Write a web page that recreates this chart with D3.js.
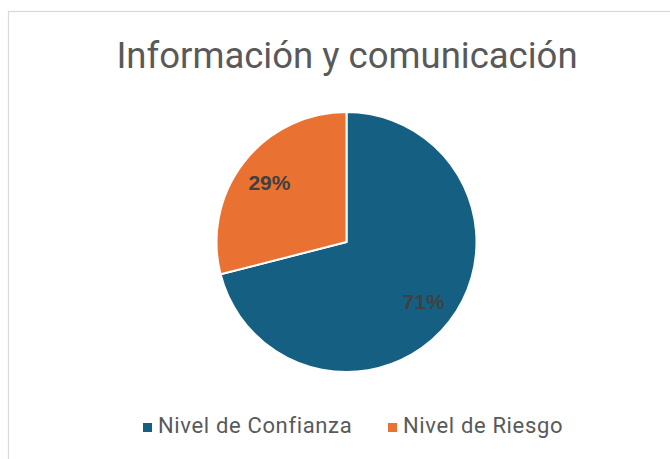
<!DOCTYPE html>
<html lang="es">
<head>
<meta charset="UTF-8">
<title>Información y comunicación</title>
<script src="https://cdn.jsdelivr.net/npm/d3@7"></script>
<style>
  * { margin: 0; padding: 0; }
  body { background: #fff; }
</style>
</head>
<body>
<svg></svg>
<script>
  const categories = ['Nivel de Confianza', 'Nivel de Riesgo'];
  const values = [71, 29];
  const colors = ['#156082', '#E97132'];
  const title = 'Información y comunicación';

  const width = 670, height = 459;
  const svg = d3.select('svg').attr('width', width).attr('height', height);

  // chart area border (extends past the right/bottom edge)
  svg.append('rect')
    .attr('x', 8.5).attr('y', 11.5)
    .attr('width', 700).attr('height', 500)
    .attr('fill', '#fff')
    .attr('stroke', '#d9d9d9')
    .attr('stroke-width', 1.2);

  svg.append('text')
    .attr('x', 347).attr('y', 68)
    .attr('text-anchor', 'middle')
    .attr('font-family', 'Roboto, "Open Sans", sans-serif')
    .attr('font-size', 36.5)
    .attr('fill', '#595959')
    .text(title);

  const data = categories.map((c, i) => ({ name: c, value: values[i] }));
  const cx = 346.5, cy = 242, r = 130;

  const color = d3.scaleOrdinal().domain(categories).range(colors);
  const pie = d3.pie().value(d => d.value).sort(null);
  const arc = d3.arc().innerRadius(0).outerRadius(r);
  const labelArc = d3.arc().innerRadius(r * 0.75).outerRadius(r * 0.75);
  const total = d3.sum(values);

  const g = svg.append('g').attr('transform', `translate(${cx},${cy})`);
  const arcs = pie(data);

  g.selectAll('path')
    .data(arcs).enter()
    .append('path')
    .attr('d', arc)
    .attr('fill', d => color(d.data.name))
    .attr('stroke', '#fff')
    .attr('stroke-width', 2)
    .attr('stroke-linejoin', 'round');

  g.selectAll('text.lbl')
    .data(arcs).enter()
    .append('text')
    .attr('class', 'lbl')
    .attr('transform', d => `translate(${labelArc.centroid(d)})`)
    .attr('text-anchor', 'middle')
    .attr('dy', '0.36em')
    .attr('font-family', '"Liberation Sans", Arial, sans-serif')
    .attr('font-weight', 'bold')
    .attr('font-size', 21)
    .attr('fill', '#404040')
    .text(d => Math.round(d.data.value / total * 100) + '%');

  // legend
  const legendX = [143, 388];
  const lg = svg.append('g');
  const items = lg.selectAll('g')
    .data(data).enter()
    .append('g')
    .attr('transform', (d, i) => `translate(${legendX[i]},433)`);
  items.append('rect')
    .attr('x', 0).attr('y', -10)
    .attr('width', 9).attr('height', 9)
    .attr('fill', d => color(d.name));
  items.append('text')
    .attr('x', 15)
    .attr('font-family', 'Roboto, "Open Sans", sans-serif')
    .attr('font-size', 22)
    .attr('letter-spacing', 0.65)
    .attr('fill', '#595959')
    .text(d => d.name);
</script>
</body>
</html>
